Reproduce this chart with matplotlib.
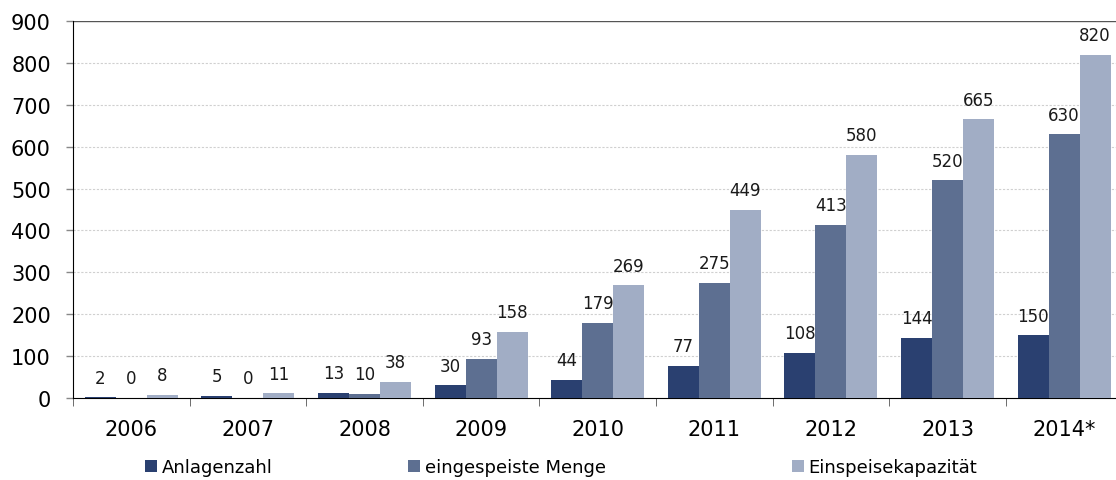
import matplotlib
matplotlib.use("Agg")
import matplotlib.pyplot as plt
import numpy as np

# Daten
jahre = ["2006", "2007", "2008", "2009", "2010", "2011", "2012", "2013", "2014*"]
anlagenzahl = [2, 5, 13, 30, 44, 77, 108, 144, 150]
menge = [0, 0, 10, 93, 179, 275, 413, 520, 630]
kapazitaet = [8, 11, 38, 158, 269, 449, 580, 665, 820]

namen = ["Anlagenzahl", "eingespeiste Menge", "Einspeisekapazität"]
farben = ["#2a4070", "#5d6f91", "#a1adc5"]

plt.rcParams['font.family'] = ['DejaVu Sans']

fig = plt.figure(figsize=(11.16, 4.81), dpi=100)
ax = fig.add_axes([73/1116, 1-399/481, 1049.4/1116, 377/481])

x = np.arange(len(jahre))
w = 0.266
reihen = [anlagenzahl, menge, kapazitaet]
bars = []
for k, (werte, farbe) in enumerate(zip(reihen, farben)):
    b = ax.bar(x + (k-1)*w, werte, w, color=farbe, zorder=3)
    bars.append(b)
    for xi, v in zip(x + (k-1)*w, werte):
        ax.annotate(str(v), (xi, v), xytext=(0, 10.5), textcoords="offset points",
                    ha="center", va="baseline", fontsize=12, color="#1a1a1a")

ax.set_xlim(-0.5, len(jahre)-0.5)
ax.set_ylim(0, 900)
ax.set_yticks(range(0, 901, 100))
ax.tick_params(axis='y', labelsize=15, length=5, width=1, color="#888888", pad=11)
ax.set_xticks(x)
ax.set_xticklabels(jahre)
ax.set_xticks(np.arange(-0.5, len(jahre)), minor=True)
ax.tick_params(axis='x', which='major', length=0, labelsize=15, pad=15)
ax.tick_params(axis='x', which='minor', length=6, color="#555555")

for y in range(100, 900, 100):
    ax.axhline(y, color="#d0d0d0", lw=0.8, ls=(0, (2, 1.5)), zorder=1)
ax.axhline(900, color="#555555", lw=1, zorder=1)

ax.spines['top'].set_visible(False)
ax.spines['right'].set_visible(False)
ax.spines['left'].set_color("#000000")
ax.spines['bottom'].set_color("#000000")

pos = [145/1116, 408/1116, 792/1116]
for k in range(3):
    fig.legend([bars[k]], [namen[k]], loc="center left", bbox_to_anchor=(pos[k], 1-468/481),
               frameon=False, fontsize=13, handlelength=0.67, handleheight=0.67,
               handletextpad=0.25, borderpad=0, borderaxespad=0)

fig.savefig("out.png", dpi=100)
